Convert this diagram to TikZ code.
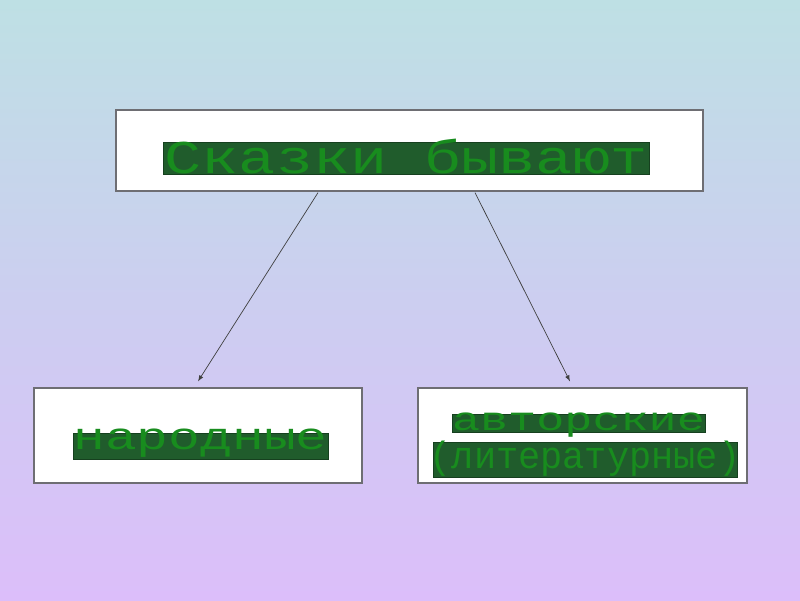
\documentclass[tikz,border=0pt]{standalone}
\usepackage{fontspec}
\setmonofont{Liberation Mono}
\usepackage{tikz}
\usetikzlibrary{arrows,%
                calc}

\definecolor{skytop}{RGB}{190,224,228}
\definecolor{skymid}{RGB}{204,206,240}
\definecolor{skybot}{RGB}{220,190,250}
\definecolor{barfill}{RGB}{32,92,44}
\definecolor{wordgreen}{RGB}{24,140,30}
\definecolor{rimgray}{RGB}{110,110,115}

\begin{document}
\begin{tikzpicture}[x=0.025cm,y=-0.025cm]
		\tikzstyle{every node}=[font=\ttfamily]
		\tikzstyle{FrameStyle}=[draw=rimgray,line width=0.9pt,fill=white,inner sep=0pt]
		\tikzstyle{BarStyle}=[fill=barfill,draw=barfill!70!black,line width=0.3pt,inner sep=0pt]
		\tikzstyle{WordStyle}=[text=wordgreen,inner sep=0pt,anchor=base]
		\tikzstyle{EdgeStyle}=[-latex,draw=black!75,line width=0.5pt]
		% background
		\shade[top color=skytop,bottom color=skybot,middle color=skymid] (0,0) rectangle (800,600);
		\useasboundingbox (0,0) rectangle (800,600);
		% frames
		\node[FrameStyle,minimum width=14.675cm,minimum height=2.025cm] (kinds) at (409.5,150.5) {};
		\node[FrameStyle,minimum width=8.2cm,minimum height=2.375cm] (folk) at (198,435.5) {};
		\node[FrameStyle,minimum width=8.225cm,minimum height=2.375cm] (author) at (582.5,435.5) {};
		% bars and words
		\node[BarStyle,minimum width=12.15cm,minimum height=0.8cm] (kindsbar) at (406,158) {};
		\node[WordStyle,font=\ttfamily\fontsize{44}{44}\selectfont] (kindsword) at (406,173) {\scalebox{1}[0.76]{Сказки бывают}};
		\node[BarStyle,minimum width=6.375cm,minimum height=0.65cm] (folkbar) at (200.5,446) {};
		\node[WordStyle,font=\ttfamily\fontsize{37.7}{38}\selectfont] (folkword) at (200.5,449) {\scalebox{1}[0.72]{народные}};
		\node[BarStyle,minimum width=6.325cm,minimum height=0.45cm] (authorbar) at (578.5,423) {};
		\node[WordStyle,font=\ttfamily\fontsize{33.3}{34}\selectfont] (authorword) at (578.5,430) {\scalebox{1}[0.7]{авторские}};
		\node[BarStyle,minimum width=7.6cm,minimum height=0.875cm] (litbar) at (585,459.5) {};
		\node[WordStyle,font=\ttfamily\fontsize{36}{36}\selectfont] (litword) at (585,468) {\scalebox{0.73}[0.75]{(литературные)}};
		% connectors
		\draw[EdgeStyle] ($(kinds.south)+(-91.5,1)$) -- ($(folk.north)+(0,-6)$);
		\draw[EdgeStyle] ($(kinds.south)+(65.5,1)$) -- ($(author.north)+(-12.5,-6)$);
	\end{tikzpicture}
\end{document}
